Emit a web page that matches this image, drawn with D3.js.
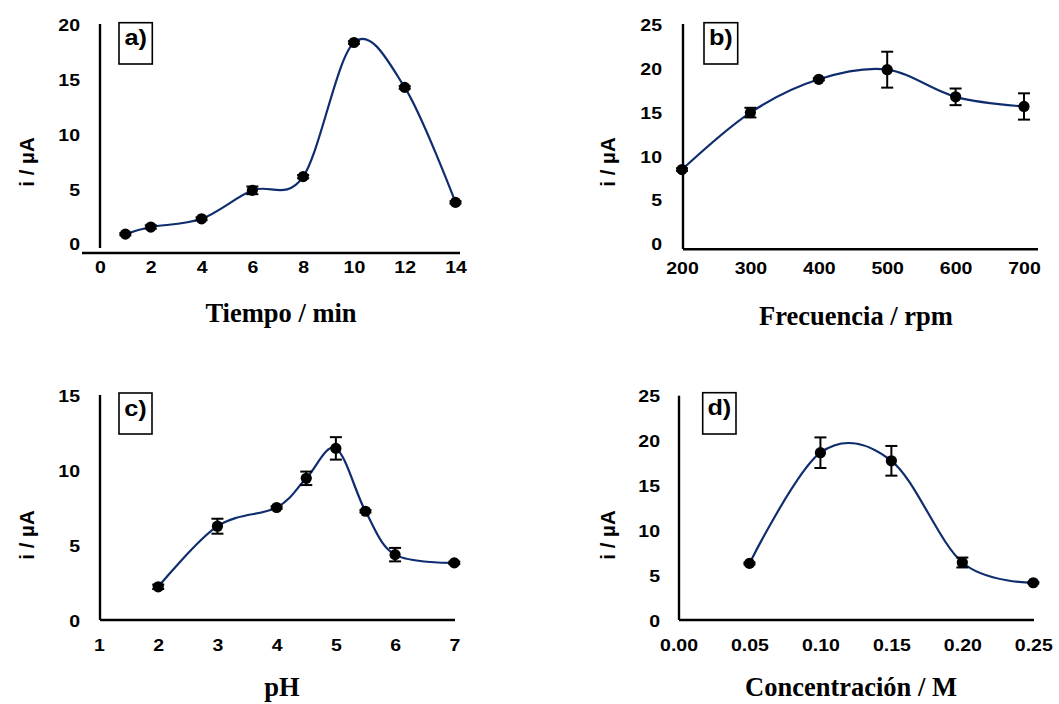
<!DOCTYPE html>
<html>
<head>
<meta charset="utf-8">
<script src="https://cdn.jsdelivr.net/npm/d3@7"></script>
<style>
  body { margin: 0; background: #ffffff; }
  svg { display: block; }
</style>
</head>
<body>
<svg id="chart" width="1059" height="704"></svg>
<script>
// ---- (a) current vs. deposition time ----
const tiempo    = [1, 2, 4, 6, 8, 10, 12, 14];
const iTiempo   = [0.9, 1.55, 2.3, 4.9, 6.15, 18.4, 14.3, 3.8];
const errTiempo = [0.1, 0.15, 0.12, 0.35, 0.15, 0.12, 0.12, 0.1];
const ticksTiempo = [0, 2, 4, 6, 8, 10, 12, 14];
const ticksIa     = [0, 5, 10, 15, 20];

// ---- (b) current vs. rotation frequency ----
const frecuencia    = [200, 300, 400, 500, 600, 700];
const iFrecuencia   = [8.5, 15.0, 18.8, 19.9, 16.8, 15.7];
const errFrecuencia = [0.15, 0.55, 0.12, 2.05, 0.95, 1.5];
const ticksFrecuencia = [200, 300, 400, 500, 600, 700];
const ticksIb         = [0, 5, 10, 15, 20, 25];

// ---- (c) current vs. pH ----
const pH    = [2, 3, 4, 4.5, 5, 5.5, 6, 7];
const iPH   = [2.25, 6.3, 7.55, 9.5, 11.5, 7.3, 4.4, 3.85];
const errPH = [0.15, 0.5, 0.08, 0.45, 0.75, 0.08, 0.45, 0.08];
const ticksPH = [1, 2, 3, 4, 5, 6, 7];
const ticksIc = [0, 5, 10, 15];

// ---- (d) current vs. concentration ----
const conc    = [0.05, 0.10, 0.15, 0.20, 0.25];
const iConc   = [6.4, 18.7, 17.8, 6.5, 4.25];
const errConc = [0.1, 1.7, 1.65, 0.55, 0.08];
const ticksConc = [0, 0.05, 0.10, 0.15, 0.20, 0.25];
const ticksId   = [0, 5, 10, 15, 20, 25];

const LINE_COLOR = "#0f2d6e";
const SANS  = "'Liberation Sans', Arial, sans-serif";
const SERIF = "'Liberation Serif', 'Times New Roman', serif";

const panels = [
  { tag: "a)", xs: tiempo, ys: iTiempo, err: errTiempo,
    xTicks: ticksTiempo, yTicks: ticksIa, xFmt: d3.format("d"),
    xDomain: [0, 14], yDomain: [0, 20], xTitle: "Tiempo / min",
    L: { xr: [100, 455.5], yr: [244, 25],
         yAxis: [100, 24, 248], xAxis: [253, 82, 460],
         xLabelY: 267, yLabelX: 80, box: [119, 22.7, 33.3, 41.3],
         yTitle: [34, 162], xTitle: [281, 322] } },
  { tag: "b)", xs: frecuencia, ys: iFrecuencia, err: errFrecuencia,
    xTicks: ticksFrecuencia, yTicks: ticksIb, xFmt: d3.format("d"),
    xDomain: [200, 700], yDomain: [0, 25], xTitle: "Frecuencia / rpm",
    L: { xr: [682, 1024], yr: [244, 25],
         yAxis: [683, 24, 249], xAxis: [249.3, 683, 1038],
         xLabelY: 268, yLabelX: 662, box: [704, 22.7, 33.7, 41.3],
         yTitle: [615, 162], xTitle: [856, 325] } },
  { tag: "c)", xs: pH, ys: iPH, err: errPH,
    xTicks: ticksPH, yTicks: ticksIc, xFmt: d3.format("d"),
    xDomain: [1, 7], yDomain: [0, 15], xTitle: "pH",
    L: { xr: [99, 454.3], yr: [620.5, 396],
         yAxis: [100, 395, 620], xAxis: [620, 100, 455],
         xLabelY: 645.5, yLabelX: 80, box: [119, 393, 33, 41],
         yTitle: [34, 535], xTitle: [282, 696] } },
  { tag: "d)", xs: conc, ys: iConc, err: errConc,
    xTicks: ticksConc, yTicks: ticksId, xFmt: d3.format(".2f"),
    xDomain: [0, 0.25], yDomain: [0, 25], xTitle: "Concentración / M",
    L: { xr: [678.5, 1033.3], yr: [621, 396],
         yAxis: [679, 395.7, 620], xAxis: [620, 679, 1034],
         xLabelY: 645, yLabelX: 660, box: [702.7, 392.7, 33.3, 41.3],
         yTitle: [615, 535], xTitle: [851, 696] } }
];

const svg = d3.select("#chart");
svg.append("rect").attr("width", 1059).attr("height", 704).attr("fill", "#fff");

panels.forEach(p => {
  const L = p.L;
  const g = svg.append("g");
  const x = d3.scaleLinear().domain(p.xDomain).range(L.xr);
  const y = d3.scaleLinear().domain(p.yDomain).range(L.yr);

  // axis lines
  g.append("line")
    .attr("x1", L.yAxis[0]).attr("x2", L.yAxis[0])
    .attr("y1", L.yAxis[1]).attr("y2", L.yAxis[2])
    .attr("stroke", "#000").attr("stroke-width", 2.4);
  g.append("line")
    .attr("x1", L.xAxis[1]).attr("x2", L.xAxis[2])
    .attr("y1", L.xAxis[0]).attr("y2", L.xAxis[0])
    .attr("stroke", "#000").attr("stroke-width", 2.4);

  // tick labels (no tick marks)
  const xa = g.append("g")
    .attr("transform", `translate(0,${L.xLabelY})`)
    .call(d3.axisBottom(x).tickValues(p.xTicks).tickFormat(p.xFmt)
            .tickSize(0).tickPadding(0));
  xa.select(".domain").remove();
  xa.attr("font-family", SANS).attr("font-size", 16).attr("font-weight", "bold");
  xa.selectAll("text")
    .attr("y", 0).attr("dy", "0.36em")
    .attr("fill", "#000")
    .attr("transform", "scale(1.22,1)");

  const ya = g.append("g")
    .attr("transform", `translate(${L.yLabelX},0)`)
    .call(d3.axisLeft(y).tickValues(p.yTicks).tickFormat(d3.format("d"))
            .tickSize(0).tickPadding(0));
  ya.select(".domain").remove();
  ya.attr("font-family", SANS).attr("font-size", 16).attr("font-weight", "bold");
  ya.selectAll("text")
    .attr("x", 0).attr("dy", "0.36em")
    .attr("fill", "#000")
    .attr("transform", "scale(1.22,1)");

  // smoothed line through the points
  const pts = p.xs.map((v, i) => [v, p.ys[i]]);
  const line = d3.line()
    .x(d => x(d[0])).y(d => y(d[1]))
    .curve(d3.curveCardinal.tension(0));
  g.append("path")
    .attr("d", line(pts))
    .attr("fill", "none")
    .attr("stroke", LINE_COLOR)
    .attr("stroke-width", 2.2);

  // error bars
  const eb = g.append("g").attr("stroke", "#000").attr("stroke-width", 2);
  pts.forEach((d, i) => {
    const cx = x(d[0]);
    const yHi = y(d[1] + p.err[i]);
    const yLo = y(d[1] - p.err[i]);
    eb.append("line").attr("x1", cx).attr("x2", cx).attr("y1", yHi).attr("y2", yLo);
    eb.append("line").attr("x1", cx - 6).attr("x2", cx + 6).attr("y1", yHi).attr("y2", yHi);
    eb.append("line").attr("x1", cx - 6).attr("x2", cx + 6).attr("y1", yLo).attr("y2", yLo);
  });

  // markers
  g.selectAll("circle.pt").data(pts).join("circle")
    .attr("class", "pt")
    .attr("cx", d => x(d[0])).attr("cy", d => y(d[1]))
    .attr("r", 5.6).attr("fill", "#000");

  // panel tag box
  g.append("rect")
    .attr("x", L.box[0]).attr("y", L.box[1])
    .attr("width", L.box[2]).attr("height", L.box[3])
    .attr("fill", "#fff").attr("stroke", "#000").attr("stroke-width", 1.6);
  g.append("text")
    .attr("transform", `translate(${L.box[0] + L.box[2] / 2},${L.box[1] + 22.5}) scale(1.15,1)`)
    .attr("text-anchor", "middle")
    .attr("font-family", SANS).attr("font-size", 22).attr("font-weight", "bold")
    .text(p.tag);

  // axis titles
  g.append("text")
    .attr("transform", `translate(${L.yTitle[0]},${L.yTitle[1]}) rotate(-90)`)
    .attr("text-anchor", "middle")
    .attr("font-family", SANS).attr("font-size", 20.5).attr("font-weight", "bold")
    .text("i / µA");
  g.append("text")
    .attr("x", L.xTitle[0]).attr("y", L.xTitle[1])
    .attr("text-anchor", "middle")
    .attr("font-family", SERIF).attr("font-size", 26.5).attr("font-weight", "bold")
    .text(p.xTitle);
});
</script>
</body>
</html>
